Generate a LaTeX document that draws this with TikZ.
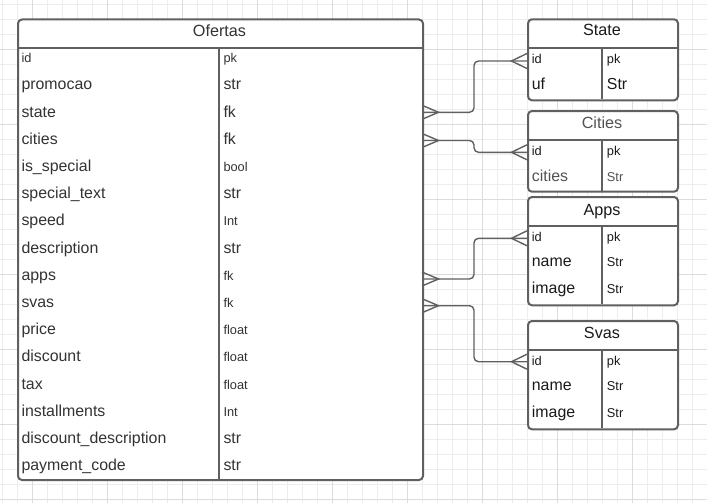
\documentclass[tikz,border=0pt]{standalone}
\usepackage{fontspec}
\setmainfont{Liberation Sans}
\newcommand\fsB{\fontsize{15.9}{18}\selectfont}
\newcommand\fsS{\fontsize{12.8}{15}\selectfont}
\newcommand\fsH{\fontsize{16.2}{19}\selectfont}
\definecolor{edge}{HTML}{606060}
\definecolor{tdark}{HTML}{1A1A1A}
\definecolor{tgray}{HTML}{333333}
\definecolor{gminor}{HTML}{EDEDED}
\definecolor{gmajor}{HTML}{DCDCDC}
\tikzset{
  tbl/.style={draw=edge, line width=2pt, rounded corners=4pt, fill=white, anchor=north west, inner sep=0pt},
  sepline/.style={draw=edge, line width=2pt},
  conn/.style={draw=edge, line width=1.4pt, rounded corners=4.5pt},
  foot/.style={draw=edge, line width=1.4pt},
  celltxt/.style={anchor=base west, inner sep=0pt, text=tdark},
  headtxt/.style={anchor=base, inner sep=0pt, text=tdark, font=\fsH},
  minorg/.style={draw=gminor, line width=0.8pt},
  majorg/.style={draw=gmajor, line width=0.8pt}
}
\begin{document}
\begin{tikzpicture}[x=1pt,y=-1pt]
\useasboundingbox (0,0) rectangle (707,503);
\fill[white] (0,0) rectangle (707,503);
% grid
\foreach \gx in {2.5,17.5,...,706} \draw[minorg] (\gx,0) -- (\gx,503);
\foreach \gy in {4.3,19.3,...,502} \draw[minorg] (0,\gy) -- (707,\gy);
\foreach \gx in {32.5,107.5,...,706} \draw[majorg] (\gx,0) -- (\gx,503);
\foreach \gy in {49.3,124.3,...,502} \draw[majorg] (0,\gy) -- (707,\gy);

% ---- Ofertas table
\node[tbl, minimum width=405pt, minimum height=460.5pt] (ofertas) at (17,18.5) {};
\draw[sepline] (17,48.5) -- (422,48.5);
\draw[sepline] (219,48.5) -- (219,479);
\node[headtxt, text=tgray] (ofertas-h) at (219.5,36.7) {Ofertas};
\foreach \n/\t/\fl/\fr [count=\i from 0] in {
  id/pk/\fsS/\fsS,
  promocao/str/\fsB/\fsB,
  state/fk/\fsB/\fsB,
  cities/fk/\fsB/\fsB,
  is\_special/bool/\fsB/\fsS,
  special\_text/str/\fsB/\fsB,
  speed/Int/\fsB/\fsS,
  description/str/\fsB/\fsB,
  apps/fk/\fsB/\fsS,
  svas/fk/\fsB/\fsS,
  price/float/\fsB/\fsS,
  discount/float/\fsB/\fsS,
  tax/float/\fsB/\fsS,
  installments/Int/\fsB/\fsS,
  discount\_description/str/\fsB/\fsB,
  payment\_code/str/\fsB/\fsB} {
  \node[celltxt, font=\fl, text=tgray] (of-l-\i) at (21.3,62.7+27.2*\i) {\n};
  \node[celltxt, font=\fr, text=tgray] (of-r-\i) at (223.3,62.7+27.2*\i) {\t};
}

% ---- State
\node[tbl, minimum width=150pt, minimum height=81pt] (state) at (527,18.3) {};
\draw[sepline] (527,48.3) -- (677,48.3);
\draw[sepline] (602,48.3) -- (602,99.3);
\node[headtxt] (state-h) at (602,35.7) {State};
\node[celltxt, font=\fsS] (st-l-0) at (531.7,63.3) {id};
\node[celltxt, font=\fsS] (st-r-0) at (606.7,63.3) {pk};
\node[celltxt, font=\fsB] (st-l-1) at (531.7,89.3) {uf};
\node[celltxt, font=\fsB] (st-r-1) at (606.7,89.3) {Str};

% ---- Cities
\node[tbl, minimum width=150pt, minimum height=80.7pt] (cities) at (527,110) {};
\draw[sepline] (527,140) -- (677,140);
\draw[sepline] (602,140) -- (602,190.7);
\node[headtxt, text=tgray!85] (cities-h) at (602,128.3) {Cities};
\node[celltxt, font=\fsS] (ci-l-0) at (531.7,155.3) {id};
\node[celltxt, font=\fsS] (ci-r-0) at (606.7,155.3) {pk};
\node[celltxt, font=\fsB, text=tgray!85] (ci-l-1) at (531.7,181) {cities};
\node[celltxt, font=\fsS, text=tgray!85] (ci-r-1) at (606.7,181) {Str};

% ---- Apps
\node[tbl, minimum width=150pt, minimum height=108.3pt] (apps) at (527,196) {};
\draw[sepline] (527,226) -- (677,226);
\draw[sepline] (602,226) -- (602,304.3);
\node[headtxt] (apps-h) at (602,215.7) {Apps};
\node[celltxt, font=\fsS] (ap-l-0) at (531.7,241.7) {id};
\node[celltxt, font=\fsS] (ap-r-0) at (606.7,241.7) {pk};
\node[celltxt, font=\fsB] (ap-l-1) at (531.7,266.7) {name};
\node[celltxt, font=\fsS] (ap-r-1) at (606.7,266.7) {Str};
\node[celltxt, font=\fsB] (ap-l-2) at (531.7,293.7) {image};
\node[celltxt, font=\fsS] (ap-r-2) at (606.7,293.7) {Str};

% ---- Svas
\node[tbl, minimum width=150pt, minimum height=108.3pt] (svas) at (527,320) {};
\draw[sepline] (527,350) -- (677,350);
\draw[sepline] (602,350) -- (602,428.3);
\node[headtxt] (svas-h) at (602,338.3) {Svas};
\node[celltxt, font=\fsS] (sv-l-0) at (531.7,365.5) {id};
\node[celltxt, font=\fsS] (sv-r-0) at (606.7,365.5) {pk};
\node[celltxt, font=\fsB] (sv-l-1) at (531.7,390.5) {name};
\node[celltxt, font=\fsS] (sv-r-1) at (606.7,390.5) {Str};
\node[celltxt, font=\fsB] (sv-l-2) at (531.7,417.3) {image};
\node[celltxt, font=\fsS] (sv-r-2) at (606.7,417.3) {Str};

% ---- connectors
\coordinate (o-state) at (422,112.3);
\coordinate (e-state) at (527,61);
\coordinate (o-cities) at (422,140.5);
\coordinate (e-cities) at (527,152.3);
\coordinate (o-apps) at (422,279);
\coordinate (e-apps) at (527,238.3);
\coordinate (o-svas) at (422,305.7);
\coordinate (e-svas) at (527,361.7);
\foreach \k in {state,cities,apps,svas} {
  \draw[conn] (o-\k) -- ++(52,0) |- (e-\k);
  \draw[foot] (o-\k) ++(0,-7) -- ++(16.5,7) -- ++(-16.5,7);
  \draw[foot] (e-\k) ++(0,-7.5) -- ++(-15.5,7.5) -- ++(15.5,7.5);
}
\end{tikzpicture}
\end{document}
